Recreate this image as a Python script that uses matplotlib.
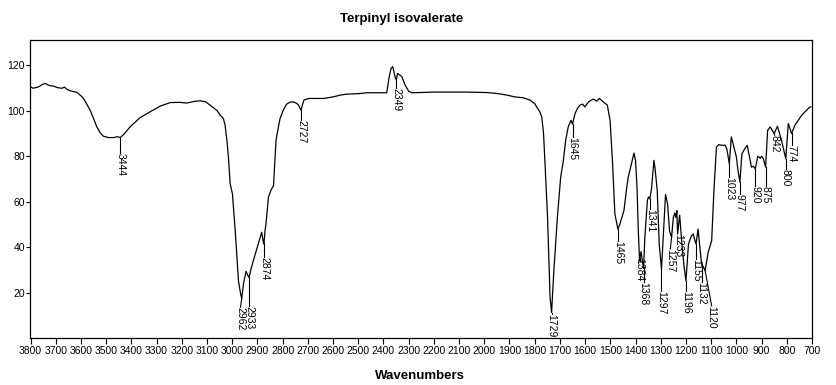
import matplotlib
matplotlib.use("Agg")
import matplotlib.pyplot as plt
from matplotlib import font_manager

# ---------------- data ----------------
title = "Terpinyl isovalerate"
xlabel = "Wavenumbers"

wavenumber = [
    3800, 3790, 3770, 3750, 3742, 3725, 3709, 3690, 3675, 3665, 3656, 3640, 3616, 3600, 3590,
    3575, 3563, 3550, 3537, 3524, 3511, 3490, 3471, 3455, 3444, 3430, 3405, 3365, 3326, 3286,
    3246, 3210, 3180, 3150, 3127, 3105, 3088, 3060, 3048, 3035, 3028, 3020, 3015, 3008, 2999,
    2988, 2975, 2966, 2962, 2955, 2945, 2938, 2933, 2925, 2916, 2900, 2883, 2876, 2874, 2870,
    2866, 2856, 2846, 2836, 2826, 2818, 2810, 2796, 2784, 2770, 2757, 2745, 2737, 2727, 2720,
    2715, 2700, 2691, 2638, 2599, 2570, 2546, 2500, 2466, 2420, 2387, 2377, 2370, 2363, 2354,
    2349, 2344, 2335, 2327, 2314, 2300, 2288, 2200, 2070, 1991, 1950, 1911, 1880, 1845, 1819,
    1800, 1792, 1780, 1772, 1765, 1759, 1749, 1739, 1733, 1724, 1710, 1697, 1687, 1677,
    1667, 1656, 1650, 1640, 1630, 1620, 1610, 1601, 1585, 1568, 1560, 1554, 1544, 1535, 1528,
    1512, 1501, 1491, 1482, 1470, 1462, 1446, 1435, 1429, 1416, 1406, 1400, 1394, 1389, 1384,
    1378, 1372, 1368, 1363, 1353, 1349, 1343, 1336, 1327, 1322, 1314, 1306, 1297, 1290, 1281,
    1273, 1265, 1257, 1250, 1244, 1240, 1236, 1233, 1225, 1215, 1208, 1200, 1190, 1178, 1171,
    1165, 1160, 1152, 1145, 1138, 1130, 1124, 1112, 1098, 1089, 1079, 1070, 1059, 1045,
    1038, 1028, 1020, 1010, 1000, 994, 986, 978, 965, 957, 940, 932, 925, 915, 905,
    900, 893, 884, 876, 866, 850, 837, 821, 804, 794, 781, 768, 741, 711, 705,
]
transmittance = [
    110.4, 109.8, 110.3, 111.6, 111.9, 111.0, 110.7, 110.0, 109.8, 110.3, 109.3, 108.6, 108.0, 106.5, 105.3,
    102.5, 100.0, 96.5, 92.8, 90.3, 88.7, 88.1, 88.1, 88.5, 88.1, 89.5, 92.8, 96.9, 99.4, 101.9,
    103.5, 103.6, 103.3, 104.0, 104.3, 103.8, 102.4, 100.0, 98.0, 96.5, 93.5, 86.0, 79.6, 67.8, 63.4,
    47.2, 25.1, 19.0, 17.5, 24.0, 29.3, 27.5, 26.6, 30.5, 34.0, 40.0, 46.5, 42.0, 41.3, 47.0,
    50.0, 62.0, 65.0, 67.0, 87.0, 92.0, 96.5, 100.5, 102.8, 103.7, 103.8, 103.2, 102.4, 100.1, 103.0,
    104.6, 105.2, 105.3, 105.3, 106.0, 106.8, 107.2, 107.4, 107.8, 107.8, 107.8, 114.9, 118.5, 119.3, 114.9,
    113.4, 116.3, 115.6, 114.9, 111.2, 108.5, 107.8, 108.1, 108.1, 107.9, 107.5, 106.8, 106.0, 105.6, 104.6,
    103.0, 101.6, 99.5, 97.2, 90.0, 76.6, 53.0, 17.8, 11.2, 29.6, 53.0, 70.7, 77.4, 86.9,
    92.8, 95.7, 94.0, 98.7, 101.0, 102.4, 102.8, 101.6, 104.0, 105.0, 104.6, 104.1, 105.3, 104.5, 103.8,
    102.4, 95.7, 76.6, 54.6, 47.9, 50.1, 56.0, 66.0, 70.7, 76.6, 81.3, 78.0, 66.0, 47.2, 34.0,
    38.0, 33.0, 31.0, 44.3, 60.4, 62.0, 61.2, 66.3, 78.1, 74.0, 64.9, 41.3, 30.3, 44.3, 63.1,
    59.0, 47.0, 44.3, 53.0, 55.0, 53.0, 56.0, 45.7, 54.0, 40.0, 32.0, 25.1, 41.3, 45.0, 45.7,
    43.0, 41.3, 47.9, 40.0, 32.5, 31.0, 29.6, 37.6, 42.8, 64.9, 84.0, 85.0, 84.7, 84.8,
    83.2, 76.6, 88.4, 84.0, 79.6, 74.0, 68.5, 81.0, 83.5, 84.7, 75.1, 75.5, 74.4, 79.9, 79.0,
    79.9, 78.8, 75.1, 91.3, 92.8, 89.9, 93.1, 86.9, 78.8, 94.3, 89.9, 93.5, 97.9, 101.3, 101.6,
]

# peak annotations: label, peak wavenumber, peak value, label wavenumber, label top value
peak_labels = ["3444", "2962", "2933", "2874", "2727", "2349", "1729", "1645", "1465",
               "1384", "1368", "1341", "1297", "1257", "1233", "1196", "1155", "1132",
               "1120", "1023", "977", "920", "875", "842", "800", "774"]
peak_wn = [3444, 2962, 2933, 2874, 2727, 2349, 1733, 1650, 1470,
           1384, 1368, 1343, 1297, 1257, 1233, 1200, 1160, 1138,
           1124, 1028, 986, 925, 884, 850, 804, 781]
peak_val = [88.1, 17.5, 26.6, 41.3, 100.1, 113.4, 11.2, 94.0, 47.9,
            34.0, 31.0, 61.2, 30.3, 44.3, 45.7, 25.1, 41.3, 32.5,
            29.6, 76.6, 68.5, 74.4, 75.1, 89.9, 78.8, 89.9]
label_wn = [3444, 2967, 2933, 2874, 2727, 2349, 1733, 1650, 1470,
            1384, 1368, 1343, 1297, 1262, 1230, 1200, 1160, 1138,
            1098, 1028, 986, 925, 884, 848, 804, 781]
label_top = [81.3, 13.5, 14.1, 35.4, 95.7, 109.7, 10.4, 88.4, 42.8,
             35.0, 24.4, 56.8, 20.7, 39.1, 45.7, 20.7, 34.7, 24.4,
             14.1, 70.7, 63.4, 67.0, 67.0, 89.1, 74.4, 84.7]

xticks = list(range(3800, 699, -100))
yticks = [20, 40, 60, 80, 100, 120]

# ---------------- fonts ----------------
avail = {f.name for f in font_manager.fontManager.ttflist}
narrow = "Liberation Sans Narrow" if "Liberation Sans Narrow" in avail else "Liberation Sans"
plt.rcParams["font.family"] = [narrow, "DejaVu Sans"]

# ---------------- figure ----------------
W, H = 837, 385
fig = plt.figure(figsize=(W / 100, H / 100), dpi=100)
ax = fig.add_axes([30.5 / W, 1 - 338 / H, (812 - 30.5) / W, (338 - 40) / H])

ax.plot(wavenumber, transmittance, color="black", lw=0.9)

for lab, pw, pv, lw_, lt in zip(peak_labels, peak_wn, peak_val, label_wn, label_top):
    ax.plot([pw, lw_], [pv, lt], color="black", lw=0.8)
    ax.text(lw_, lt, lab, rotation=270, ha="center", va="top", fontsize=7.5,
            color="black")

ax.set_xlim(3800, 700)
ax.set_ylim(0, 131)
ax.set_xticks(xticks)
ax.set_xticklabels([str(t) for t in xticks], fontsize=7.5)
ax.set_yticks(yticks)
ax.set_yticklabels([str(t) for t in yticks], fontsize=7.5, family=["Liberation Sans", "DejaVu Sans"])
ax.tick_params(axis="x", direction="out", length=4, width=0.8, pad=2)
ax.tick_params(axis="y", direction="out", length=3, width=0.8, pad=1)
for s in ax.spines.values():
    s.set_linewidth(0.9)

fig.text(402 / W, 1 - 19 / H, title, ha="center", va="center", fontsize=9.5,
         fontweight="bold", family=["Liberation Sans Narrow", "Liberation Sans", "DejaVu Sans"])
fig.text(420 / W, 1 - 376 / H, xlabel, ha="center", va="center", fontsize=9.5,
         fontweight="bold", family=["Liberation Sans Narrow", "Liberation Sans", "DejaVu Sans"])

fig.savefig("out.png", dpi=100)
